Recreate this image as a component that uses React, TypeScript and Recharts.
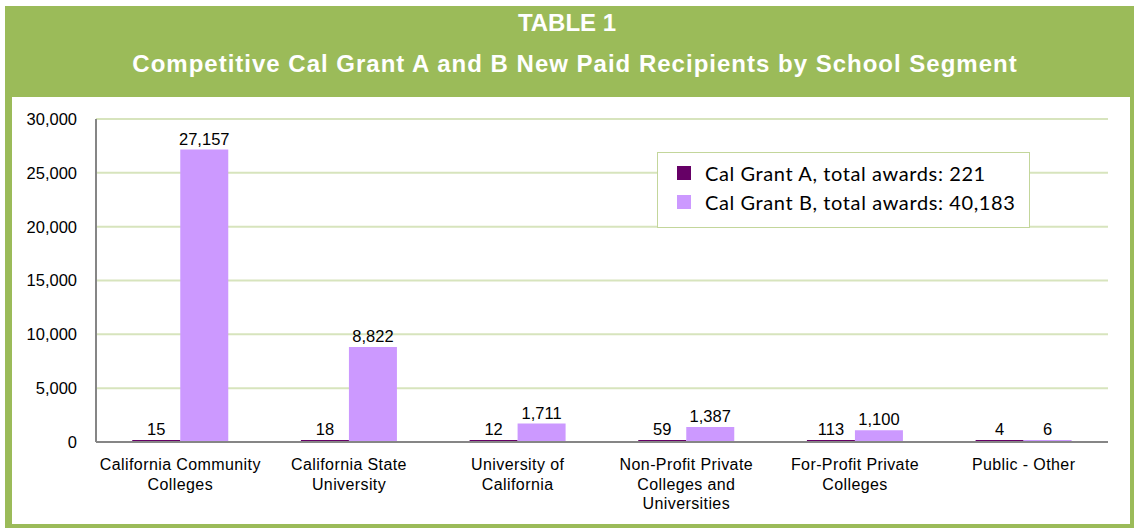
import { Bar, BarChart, CartesianGrid, LabelList, XAxis, YAxis } from "recharts";

const segments = [
  "California Community\nColleges",
  "California State\nUniversity",
  "University of\nCalifornia",
  "Non-Profit Private\nColleges and\nUniversities",
  "For-Profit Private\nColleges",
  "Public - Other",
];
const grantA = [15, 18, 12, 59, 113, 4];
const grantB = [27157, 8822, 1711, 1387, 1100, 6];
const yTicks = [0, 5000, 10000, 15000, 20000, 25000, 30000];
const legendItems = [
  { label: "Cal Grant A, total awards: 221", color: "#660066" },
  { label: "Cal Grant B, total awards: 40,183", color: "#CC99FF" },
];

const font = "'Liberation Sans', Arial, sans-serif";

function SegmentTick(props: any) {
  const { x, y, payload } = props;
  const lines = String(payload.value).split("\n");
  return (
    <text x={x} y={y + 28} textAnchor="middle" fontFamily={font} fontSize={16} letterSpacing={0.4} fill="#000">
      {lines.map((line, i) => (
        <tspan key={i} x={x} dy={i === 0 ? 0 : 19.5}>
          {line}
        </tspan>
      ))}
    </text>
  );
}

export default function App() {
  const data = segments.map((name, i) => ({ name, a: grantA[i], b: grantB[i] }));
  const fmt = (v: any) => Number(v).toLocaleString("en-US");

  return (
    <div style={{ position: "absolute", left: 0, top: 0, width: 1134, height: 529, background: "#fff", fontFamily: font }}>
      <div style={{ position: "absolute", left: 5, top: 6, width: 1129, height: 522, background: "#9BBB59" }} />
      <div style={{ position: "absolute", left: 12, top: 97, width: 1118, height: 427, background: "#fff" }} />
      <div style={{ position: "absolute", left: 0, top: 8, width: 1134, textAlign: "center", color: "#fff", fontWeight: "bold", fontSize: 24, lineHeight: "29px" }}>
        TABLE 1
      </div>
      <div style={{ position: "absolute", left: 8, top: 49, width: 1134, textAlign: "center", color: "#fff", fontWeight: "bold", fontSize: 24, letterSpacing: 1, lineHeight: "29px" }}>
        Competitive Cal Grant A and B New Paid Recipients by School Segment
      </div>
      <div style={{ position: "absolute", left: 0, top: 0 }}>
        <BarChart
          width={1134}
          height={529}
          data={data}
          margin={{ top: 119, right: 26, bottom: 0, left: 16 }}
          barCategoryGap="21.5%"
          barGap={0}
        >
          <CartesianGrid vertical={false} stroke="#d7e4bd" strokeWidth={2} />
          <XAxis
            dataKey="name"
            height={87}
            interval={0}
            tickLine={false}
            tickSize={0}
            tickMargin={0}
            axisLine={{ stroke: "#868686", strokeWidth: 2 }}
            tick={<SegmentTick />}
          />
          <YAxis
            width={80}
            domain={[0, 30000]}
            ticks={yTicks}
            tickFormatter={fmt}
            tickLine={false}
            tickSize={0}
            tickMargin={19}
            axisLine={{ stroke: "#868686", strokeWidth: 2 }}
            tick={{ fill: "#000", fontSize: 16.5, fontFamily: font }}
          />
          <Bar dataKey="a" fill="#660066" minPointSize={2} isAnimationActive={false}>
            <LabelList dataKey="a" position="top" offset={5} formatter={fmt} fill="#000" fontSize={16.5} fontFamily={font} />
          </Bar>
          <Bar dataKey="b" fill="#CC99FF" minPointSize={2} isAnimationActive={false}>
            <LabelList dataKey="b" position="top" offset={5} formatter={fmt} fill="#000" fontSize={16.5} fontFamily={font} />
          </Bar>
        </BarChart>
      </div>
      <div
        style={{
          position: "absolute",
          left: 657,
          top: 152,
          width: 371,
          height: 74,
          background: "#fff",
          border: "1px solid #c3d69b",
          fontFamily: "Lato, 'Noto Sans', sans-serif",
          fontSize: 20,
          letterSpacing: 0.6,
          color: "#000",
        }}
      >
        {legendItems.map((item, i) => (
          <div key={i} style={{ position: "absolute", left: 19, top: 8 + i * 29, height: 24, display: "flex", alignItems: "center" }}>
            <span style={{ width: 14, height: 14, background: item.color, marginRight: 14 }} />
            <span>{item.label}</span>
          </div>
        ))}
      </div>
    </div>
  );
}
